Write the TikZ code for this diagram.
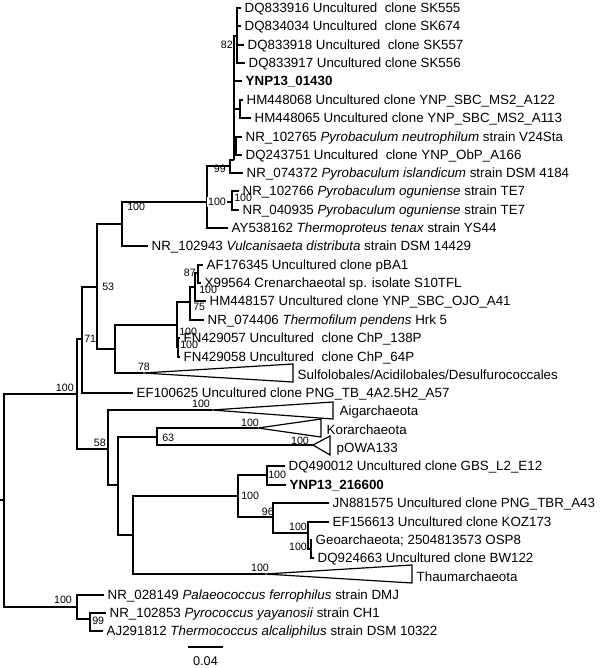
\documentclass[tikz,border=0pt]{standalone}
\usepackage{fontspec}
\setmainfont{Liberation Sans}
\begin{document}
\begin{tikzpicture}[x=0.75pt,y=-0.75pt,
  br/.style={line width=0.9pt},
  leaf/.style={anchor=west,inner xsep=2.6pt,inner ysep=0pt,text height=7.2pt,text depth=0pt,font=\fontsize{10}{12}\selectfont},
  bs/.style={inner sep=0pt,text height=5.8pt,text depth=0pt,font=\fontsize{8}{9}\selectfont}]
\useasboundingbox (0,0) rectangle (602,668);
% ---------- leaves ----------
\node[leaf] (l1) at (241,8) {DQ833916 Uncultured\ \ clone SK555};
\node[leaf] (l2) at (241,26) {DQ834034 Uncultured\ \ clone SK674};
\node[leaf] (l3) at (244,45) {DQ833918 Uncultured\ \ clone SK557};
\node[leaf] (l4) at (245,63) {DQ833917 Uncultured clone SK556};
\node[leaf] (l5) at (242,81) {\textbf{YNP13\_01430}};
\node[leaf] (l6) at (243,100) {HM448068 Uncultured clone YNP\_SBC\_MS2\_A122};
\node[leaf] (l7) at (251,118) {HM448065 Uncultured clone YNP\_SBC\_MS2\_A113};
\node[leaf] (l8) at (242,137) {NR\_102765 \textit{Pyrobaculum neutrophilum} strain V24Sta};
\node[leaf] (l9) at (242,155) {DQ243751 Uncultured\ \ clone YNP\_ObP\_A166};
\node[leaf] (l10) at (243,173) {NR\_074372 \textit{Pyrobaculum islandicum} strain DSM 4184};
\node[leaf] (l11) at (239,191) {NR\_102766 \textit{Pyrobaculum oguniense} strain TE7};
\node[leaf] (l12) at (239,210) {NR\_040935 \textit{Pyrobaculum oguniense} strain TE7};
\node[leaf] (l13) at (228,228) {AY538162 \textit{Thermoproteus tenax} strain YS44};
\node[leaf] (l14) at (148,246) {NR\_102943 \textit{Vulcanisaeta distributa} strain DSM 14429};
\node[leaf] (l15) at (203,265) {AF176345 Uncultured clone pBA1};
\node[leaf] (l16) at (201,283) {X99564 Crenarchaeotal sp. isolate S10TFL};
\node[leaf] (l17) at (206,301) {HM448157 Uncultured clone YNP\_SBC\_OJO\_A41};
\node[leaf] (l18) at (204,320) {NR\_074406 \textit{Thermofilum pendens} Hrk 5};
\node[leaf] (l19) at (180,338) {FN429057 Uncultured\ \ clone ChP\_138P};
\node[leaf] (l20) at (180,357) {FN429058 Uncultured\ \ clone ChP\_64P};
\node[leaf] (l21) at (294,375) {Sulfolobales/Acidilobales/Desulfurococcales};
\node[leaf] (l22) at (133,393) {EF100625 Uncultured clone PNG\_TB\_4A2.5H2\_A57};
\node[leaf] (l23) at (336,411) {Aigarchaeota};
\node[leaf] (l24) at (323,430) {Korarchaeota};
\node[leaf] (l25) at (333,448) {pOWA133};
\node[leaf] (l26) at (285,466) {DQ490012 Uncultured clone GBS\_L2\_E12};
\node[leaf] (l27) at (286,485) {\textbf{YNP13\_216600}};
\node[leaf] (l28) at (329,503) {JN881575 Uncultured clone PNG\_TBR\_A43};
\node[leaf] (l29) at (329,522) {EF156613 Uncultured clone KOZ173};
\node[leaf] (l30) at (312,540) {Geoarchaeota; 2504813573 OSP8};
\node[leaf] (l31) at (314,558) {DQ924663 Uncultured clone BW122};
\node[leaf] (l32) at (413,577) {Thaumarchaeota};
\node[leaf] (l33) at (104,595) {NR\_028149 \textit{Palaeococcus ferrophilus} strain DMJ};
\node[leaf] (l34) at (106,613) {NR\_102853 \textit{Pyrococcus yayanosii} strain CH1};
\node[leaf] (l35) at (103,631) {AJ291812 \textit{Thermococcus alcaliphilus} strain DSM 10322};
% ---------- internal nodes ----------
\coordinate (n82) at (237,36);
\coordinate (hm) at (240,109);
\coordinate (py) at (236,146);
\coordinate (P) at (234,160);
\coordinate (n99) at (230,166);
\coordinate (R) at (232,202);
\coordinate (T) at (207,202);
\coordinate (TP) at (122,224);
\coordinate (E) at (97,287);
\coordinate (G) at (115,349);
\coordinate (TF) at (177,325);
\coordinate (n75) at (190,302);
\coordinate (n100a) at (195,287);
\coordinate (n87) at (198,273);
\coordinate (FN) at (178,347);
\coordinate (sulA) at (143,373);
\coordinate (C) at (82,339);
\coordinate (A) at (77,394);
\coordinate (D) at (108,449);
\coordinate (aigA) at (212,410);
\coordinate (D2) at (118,485);
\coordinate (H) at (157,437);
\coordinate (korA) at (258,428);
\coordinate (powA) at (313,445);
\coordinate (I) at (133,535);
\coordinate (thA) at (265,574);
\coordinate (J) at (238,496);
\coordinate (K) at (267,475);
\coordinate (n96) at (273,517);
\coordinate (n100c) at (308,533);
\coordinate (n100d) at (311,549);
\coordinate (root) at (4,500);
\coordinate (rs) at (0,500);
\coordinate (B) at (77,607);
\coordinate (n99b) at (90,619);
% ---------- branches ----------
\begin{scope}[br]
\draw (n82) |- (l1.west); \draw (n82) |- (l2.west); \draw (n82) |- (l3.west); \draw (n82) |- (l4.west);
\draw (hm) |- (l6.west); \draw (hm) |- (l7.west);
\draw (py) |- (l8.west); \draw (py) |- (l9.west);
\draw (P) |- (n82); \draw (P) |- (l5.west); \draw (P) |- (hm); \draw (P) |- (py);
\draw (n99) |- (P); \draw (n99) |- (l10.west);
\draw (R) |- (l11.west); \draw (R) |- (l12.west);
\draw (T) |- (n99); \draw (T) -- (R); \draw (T) |- (l13.west);
\draw (TP) |- (T); \draw (TP) |- (l14.west);
\draw (E) |- (TP); \draw (E) |- (G);
\draw (n87) |- (l15.west); \draw (n87) |- (l16.west);
\draw (n100a) |- (n87); \draw (n100a) |- (l17.west);
\draw (n75) |- (n100a); \draw (n75) |- (l18.west);
\draw (FN) |- (l19.west); \draw (FN) |- (l20.west);
\draw (TF) |- (n75); \draw (TF) |- (FN);
\draw (G) |- (TF); \draw (G) |- (sulA);
\draw (C) |- (E); \draw (C) |- (l22.west);
\draw (A) |- (C); \draw (A) |- (D);
\draw (D) |- (aigA); \draw (D) |- (D2);
\draw (H) |- (korA); \draw (H) |- (powA);
\draw (D2) |- (H); \draw (D2) |- (I);
\draw (K) |- (l26.west); \draw (K) |- (l27.west);
\draw (n100d) |- (l30.west); \draw (n100d) |- (l31.west);
\draw (n100c) |- (l29.west); \draw (n100c) |- (n100d);
\draw (n96) |- (l28.west); \draw (n96) |- (n100c);
\draw (J) |- (K); \draw (J) |- (n96);
\draw (I) |- (J); \draw (I) |- (thA);
\draw (rs) -- (root); \draw (root) |- (A); \draw (root) |- (B);
\draw (B) |- (l33.west); \draw (B) |- (n99b);
\draw (n99b) |- (l34.west); \draw (n99b) |- (l35.west);
% collapsed clades
\draw (sulA) -- (293,364) -- (293,382) -- cycle;
\draw (aigA) -- (333,402) -- (333,419) -- cycle;
\draw (korA) -- (321,419) -- (321,437) -- cycle;
\draw (powA) -- (330,436) -- (330,455) -- cycle;
\draw (thA) -- (412,565) -- (412,583) -- cycle;
\end{scope}
% ---------- support values ----------
\node[bs,anchor=east] (b82) at (233,45) {82};
\node[bs,anchor=east] (b99) at (226,169) {99};
\node[bs,fill=white,inner sep=0.6pt] (bT) at (217,202) {100};
\node[bs,anchor=west] (bR) at (234,198) {100};
\node[bs,anchor=west] (bTP) at (127,207) {100};
\node[bs,anchor=west] (b53) at (102,287) {53};
\node[bs,anchor=east] (b87) at (196,273) {87};
\node[bs,anchor=west] (b100a) at (199,290) {100};
\node[bs,anchor=west] (b75) at (193,307) {75};
\node[bs,anchor=west] (bTF) at (179,332) {100};
\node[bs,anchor=west] (bFN) at (180,345) {100};
\node[bs] (b78) at (144,367) {78};
\node[bs,anchor=west] (b71) at (84,339) {71};
\node[bs,anchor=east] (bA) at (74,388) {100};
\node[bs,anchor=east] (b58) at (106,443) {58};
\node[bs] (bAig) at (201,404) {100};
\node[bs,anchor=west] (b63) at (162,438) {63};
\node[bs] (bKor) at (250,423) {100};
\node[bs] (bPow) at (300,441) {100};
\node[bs,anchor=west] (bJ) at (241,496) {100};
\node[bs,anchor=west] (bK) at (268,475) {100};
\node[bs,anchor=east] (b96) at (274,512) {96};
\node[bs] (bc) at (298,527) {100};
\node[bs] (bd) at (298,547) {100};
\node[bs] (bTh) at (260,568) {100};
\node[bs] (bB) at (63,600) {100};
\node[bs,anchor=west] (b99b) at (92,621) {99};
% ---------- scale bar ----------
\coordinate (sb1) at (188,647);
\coordinate (sb2) at (223,647);
\draw[br] (sb1) -- (sb2);
\node[inner sep=0pt,font=\fontsize{9.5}{11}\selectfont] (sbl) at (205.5,661) {0.04};
\end{tikzpicture}
\end{document}
